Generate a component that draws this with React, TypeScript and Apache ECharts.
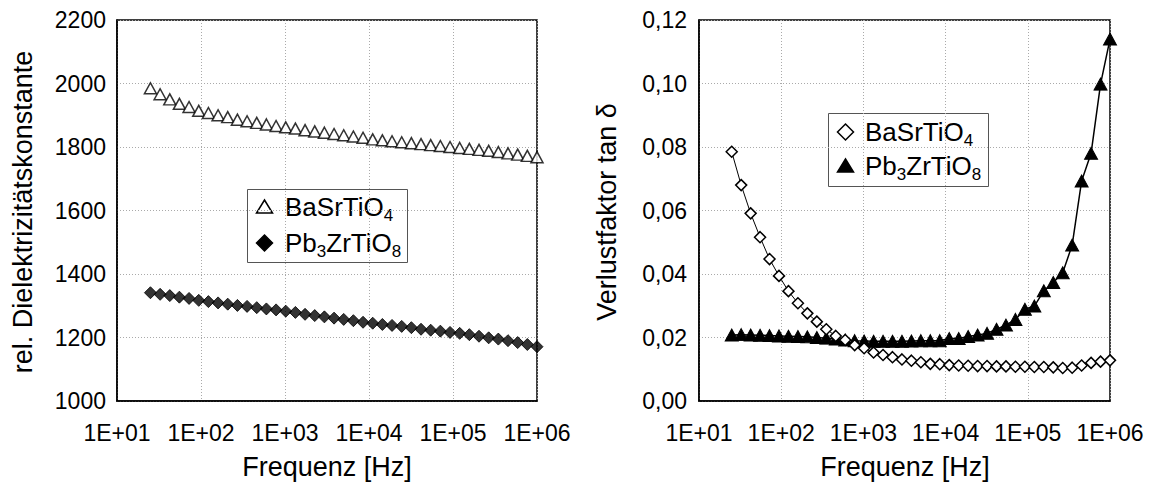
import React, { useEffect, useRef } from "react";
import * as echarts from "echarts";

const freq = [25, 32.6, 42.5, 55.3, 72.1, 94, 122.5, 159.7, 208.1, 271.3, 353.6, 460.8, 600.6, 782.8, 1020, 1330, 1733, 2259, 2944, 3837, 5000, 6517, 8493, 11069, 14427, 18803, 24506, 31940, 41628, 54254, 70711, 92159, 120112, 156546, 204030, 265918, 346572, 451693, 588700, 767266, 1000000];

const epsBaSrTiO4 = [1985, 1966, 1950, 1936, 1926, 1914, 1907, 1900, 1894, 1886, 1881, 1876, 1871, 1866, 1862, 1858, 1853, 1849, 1845, 1841, 1837, 1833, 1829, 1824, 1821, 1818, 1815, 1812, 1809, 1806, 1803, 1800, 1797, 1794, 1791, 1788, 1784, 1780, 1776, 1772, 1768];
const epsPb3ZrTiO8 = [1341, 1336, 1332, 1327, 1323, 1317, 1313, 1309, 1305, 1301, 1298, 1294, 1290, 1287, 1283, 1279, 1273, 1269, 1265, 1261, 1257, 1253, 1248, 1245, 1241, 1238, 1235, 1231, 1226, 1223, 1220, 1216, 1213, 1209, 1204, 1199, 1195, 1190, 1184, 1178, 1171];

const tanBaSrTiO4 = [0.0785, 0.068, 0.0591, 0.0516, 0.0447, 0.0394, 0.0346, 0.0308, 0.0276, 0.025, 0.0226, 0.0205, 0.0192, 0.0176, 0.0166, 0.0153, 0.0145, 0.0138, 0.0131, 0.0127, 0.0122, 0.0117, 0.0116, 0.0113, 0.0112, 0.0111, 0.011, 0.011, 0.0109, 0.0109, 0.0108, 0.0108, 0.0107, 0.0107, 0.0106, 0.0104, 0.0105, 0.0112, 0.012, 0.0124, 0.0128];
const tanPb3ZrTiO8 = [0.0208, 0.0209, 0.0208, 0.0207, 0.0206, 0.0205, 0.0204, 0.0203, 0.0202, 0.02, 0.0198, 0.0195, 0.0192, 0.019, 0.0189, 0.0188, 0.0188, 0.0188, 0.0188, 0.0189, 0.019, 0.019, 0.019, 0.0197, 0.0197, 0.0203, 0.0208, 0.0213, 0.0226, 0.0239, 0.0257, 0.0289, 0.0299, 0.0347, 0.0373, 0.0404, 0.0491, 0.0693, 0.078, 0.0998, 0.114];

const xTitle = "Frequenz [Hz]";
const yTitleLeft = "rel. Dielektrizitätskonstante";
const yTitleRight = "Verlustfaktor tan δ";
// legend labels: [text, isSubscript] segments
const labelBaSrTiO4: [string, boolean][] = [["BaSrTiO", false], ["4", true]];
const labelPb3ZrTiO8: [string, boolean][] = [["Pb", false], ["3", true], ["ZrTiO", false], ["8", true]];

const FONT = '"Liberation Sans", Arial, sans-serif';
const MAIN_SIZE = 26;
const SUB_SIZE = 17;

const pairs = (ys: number[]) => freq.map((f, i) => [f, ys[i]]);

const logLabel = (v: number) => {
  const e = Math.round(Math.log10(v));
  return "1E+" + (e < 10 ? "0" : "") + e;
};

let measureCtx: CanvasRenderingContext2D | null = null;
function measure(text: string, size: number) {
  if (!measureCtx) measureCtx = document.createElement("canvas").getContext("2d");
  if (!measureCtx) return text.length * size * 0.55;
  measureCtx.font = `${size}px ${FONT}`;
  return measureCtx.measureText(text).width;
}

function legendGroup(
  x: number,
  y: number,
  w: number,
  h: number,
  rows: { cy: number; sym: string; filled: boolean; segs: [string, boolean][] }[],
  symX: number,
  textX: number
) {
  const children: any[] = [
    { type: "rect", shape: { x, y, width: w, height: h }, style: { fill: "#fff", stroke: "#555", lineWidth: 1 } },
  ];
  rows.forEach((r) => {
    let pts: number[][];
    if (r.sym === "triangle") {
      pts = [[symX, r.cy - 7], [symX + 8, r.cy + 6], [symX - 8, r.cy + 6]];
    } else {
      pts = [[symX, r.cy - 8], [symX + 8, r.cy], [symX, r.cy + 8], [symX - 8, r.cy]];
    }
    children.push({
      type: "polygon",
      shape: { points: pts },
      style: { fill: r.filled ? "#000" : "#fff", stroke: "#000", lineWidth: 1.5 },
    });
    let cx = textX;
    r.segs.forEach(([t, sub]) => {
      const size = sub ? SUB_SIZE : MAIN_SIZE;
      children.push({
        type: "text",
        x: cx,
        y: sub ? r.cy + 8 : r.cy,
        style: { text: t, font: `${size}px ${FONT}`, fill: "#000", verticalAlign: "middle", align: "left" },
      });
      cx += measure(t, size);
    });
  });
  return { type: "group", z: 100, children };
}

export default function App() {
  const ref = useRef<HTMLDivElement>(null);
  useEffect(() => {
    if (!ref.current) return;
    const chart = echarts.init(ref.current, null, { renderer: "svg" });
    const grids = [
      { left: 117, top: 20, width: 420, height: 381 },
      { left: 699, top: 20, width: 411, height: 381 },
    ];
    const splitLine = { show: true, lineStyle: { color: "#aaa", type: [1, 2] as any, width: 1 } };
    const axisLine = { show: true, lineStyle: { color: "#000", width: 1.5 } };
    const labelStyle = { color: "#000", fontSize: 23, fontFamily: FONT };
    const option: any = {
      animation: false,
      backgroundColor: "#fff",
      grid: grids.map((g) => ({ ...g, show: true, borderColor: "#000", borderWidth: 1.5, containLabel: false })),
      xAxis: [0, 1].map((i) => ({
        type: "log",
        logBase: 10,
        gridIndex: i,
        min: 10,
        max: 1000000,
        axisLine,
        axisTick: { show: false },
        splitLine,
        axisLabel: { ...labelStyle, margin: 20, formatter: logLabel, showMinLabel: true, showMaxLabel: true },
      })),
      yAxis: [
        {
          type: "value",
          gridIndex: 0,
          min: 1000,
          max: 2200,
          interval: 200,
          axisLine,
          axisTick: { show: false },
          splitLine,
          axisLabel: { ...labelStyle, margin: 11, formatter: (v: number) => String(v) },
        },
        {
          type: "value",
          gridIndex: 1,
          min: 0,
          max: 0.12,
          interval: 0.02,
          axisLine,
          axisTick: { show: false },
          splitLine,
          axisLabel: { ...labelStyle, margin: 12, formatter: (v: number) => v.toFixed(2).replace(".", ",") },
        },
      ],
      series: [
        {
          name: "BaSrTiO4 (eps)",
          type: "scatter",
          xAxisIndex: 0,
          yAxisIndex: 0,
          symbol: "triangle",
          symbolSize: [12, 11],
          itemStyle: { color: "#fff", borderColor: "#000", borderWidth: 1.5 },
          data: pairs(epsBaSrTiO4),
          z: 3,
        },
        {
          name: "Pb3ZrTiO8 (eps)",
          type: "scatter",
          xAxisIndex: 0,
          yAxisIndex: 0,
          symbol: "diamond",
          symbolSize: 12,
          itemStyle: { color: "#000", borderColor: "#000", borderWidth: 1 },
          data: pairs(epsPb3ZrTiO8),
          z: 3,
        },
        {
          name: "Pb3ZrTiO8 (tan)",
          type: "line",
          xAxisIndex: 1,
          yAxisIndex: 1,
          symbol: "triangle",
          symbolSize: [13, 12],
          showAllSymbol: true,
          lineStyle: { color: "#000", width: 1.5 },
          itemStyle: { color: "#000", borderColor: "#000", borderWidth: 1 },
          data: pairs(tanPb3ZrTiO8),
          z: 3,
        },
        {
          name: "BaSrTiO4 (tan)",
          type: "line",
          xAxisIndex: 1,
          yAxisIndex: 1,
          symbol: "diamond",
          symbolSize: 11,
          showAllSymbol: true,
          lineStyle: { color: "#000", width: 1 },
          itemStyle: { color: "#fff", borderColor: "#000", borderWidth: 1.5 },
          data: pairs(tanBaSrTiO4),
          z: 4,
        },
      ],
      graphic: [
        { type: "text", x: 327, y: 467, style: { text: xTitle, font: `27px ${FONT}`, fill: "#000", align: "center", verticalAlign: "middle" } },
        { type: "text", x: 905, y: 467, style: { text: xTitle, font: `27px ${FONT}`, fill: "#000", align: "center", verticalAlign: "middle" } },
        { type: "text", x: 23, y: 212, rotation: Math.PI / 2, style: { text: yTitleLeft, font: `27px ${FONT}`, fill: "#000", align: "center", verticalAlign: "middle" } },
        { type: "text", x: 607, y: 212, rotation: Math.PI / 2, style: { text: yTitleRight, font: `27px ${FONT}`, fill: "#000", align: "center", verticalAlign: "middle" } },
        legendGroup(247.5, 189.5, 160, 73, [
          { cy: 207, sym: "triangle", filled: false, segs: labelBaSrTiO4 },
          { cy: 243, sym: "diamond", filled: true, segs: labelPb3ZrTiO8 },
        ], 264.5, 285),
        legendGroup(828.5, 113.5, 160, 73, [
          { cy: 132, sym: "diamond", filled: false, segs: labelBaSrTiO4 },
          { cy: 166, sym: "triangle", filled: true, segs: labelPb3ZrTiO8 },
        ], 845.5, 865),
      ],
    };
    chart.setOption(option);
    return () => chart.dispose();
  }, []);
  return (
    <div
      ref={ref}
      style={{ position: "fixed", left: 0, top: 0, width: 1153, height: 496, background: "#fff" }}
    />
  );
}
